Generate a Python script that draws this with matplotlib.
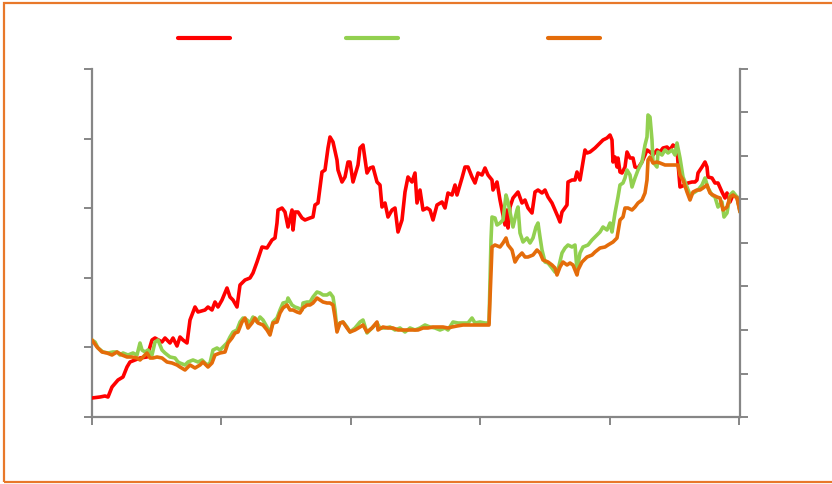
import numpy as np
import matplotlib
matplotlib.use("Agg")
import matplotlib.pyplot as plt
from matplotlib.lines import Line2D
from matplotlib.patches import Rectangle

# ---- data (chart units; no labels shown in the reference) ----
red_x = [0,8,13,16,20,26,31,35,38,43,48,55,60,63,70,73,78,81,85,88,91,95,98,103,106,113,116,120,123,126,130,135,138,141,145,148,153,158,161,165,170,175,180,183,185,186,190,193,196,200,201,203,206,210,213,218,221,223,226,230,233,236,238,241,245,246,250,253,256,258,261,266,268,271,275,278,281,285,288,290,293,296,300,303,306,310,313,316,320,323,325,328,331,335,338,341,345,350,353,356,360,363,365,370,373,376,380,383,386,390,393,396,400,401,405,408,410,413,415,416,418,421,426,430,433,436,440,443,446,450,453,456,460,463,466,468,470,475,476,480,483,485,488,491,493,495,498,503,508,511,515,518,520,521,523,525,526,528,530,533,535,538,541,543,546,550,553,555,558,561,565,568,571,575,578,581,585,586,588,593,596,600,603,605,606,610,613,615,616,620,623,626,630,633,635,638,641,645,648]
red_y = [19,20,21,20,30,37,40,50,55,57,59,60,77,79,75,79,74,79,71,80,77,74,97,110,105,107,110,107,115,110,117,129,120,117,110,132,137,139,144,155,170,169,177,179,194,207,209,205,190,207,187,205,205,199,197,199,200,212,214,245,247,269,280,275,257,247,235,240,255,255,235,252,269,272,244,249,250,235,232,210,214,200,207,209,185,197,225,240,235,244,214,227,207,209,207,197,212,215,209,224,222,232,222,239,250,250,240,234,244,242,249,242,237,227,235,217,207,192,207,189,210,219,225,214,217,209,204,225,227,224,227,220,214,207,200,195,205,212,235,237,237,245,237,255,267,264,265,269,274,277,279,282,277,255,260,250,259,245,244,250,265,259,259,250,249,255,262,267,265,262,267,265,269,270,267,272,269,254,230,232,234,235,235,237,244,250,255,250,240,239,234,234,225,219,224,215,222,220,207]

green_x = [0,3,6,11,16,21,25,28,31,36,41,45,48,50,53,56,60,63,66,70,73,78,83,86,88,93,96,101,106,110,115,118,121,125,128,131,135,138,141,145,148,151,155,158,161,165,168,171,175,178,181,185,188,191,195,196,200,203,206,210,211,215,218,221,225,228,231,235,238,241,243,245,248,251,255,258,263,268,271,275,280,285,288,293,298,303,308,313,318,323,328,333,338,343,348,353,356,361,366,371,376,380,383,388,393,397,399,400,403,405,408,411,414,416,418,421,425,426,428,431,435,438,441,444,446,448,450,453,456,460,463,466,470,473,476,480,483,485,488,491,496,500,505,508,511,515,518,520,523,526,528,531,533,535,538,540,543,546,550,553,555,556,558,560,561,565,566,570,573,576,580,583,585,588,591,595,598,603,606,610,613,616,620,623,626,630,632,635,638,641,645,648]
green_y = [77,75,69,65,64,65,65,62,64,62,64,62,74,67,65,67,62,75,77,67,64,60,59,55,54,52,55,57,55,57,52,54,67,69,67,70,74,80,85,87,95,99,97,94,100,95,100,97,90,84,95,99,107,114,115,119,112,110,109,107,114,115,115,120,125,124,122,122,124,120,107,87,94,95,90,85,89,95,97,84,89,94,89,89,90,87,89,85,89,87,89,92,90,89,87,89,87,95,94,94,94,99,94,95,94,94,177,200,199,192,194,197,222,215,205,190,207,210,184,175,179,174,179,190,194,180,167,155,154,149,145,147,164,169,172,170,172,147,164,170,172,177,182,185,190,187,194,185,204,220,232,234,239,247,242,230,239,247,255,272,280,302,300,277,255,250,265,262,267,264,267,262,274,259,240,230,222,225,227,232,239,229,222,220,210,215,200,204,222,225,220,205]

orange_x = [0,5,10,15,20,25,30,35,40,45,48,51,55,58,61,65,70,75,80,85,88,93,98,103,108,111,116,120,123,128,133,136,140,143,146,150,153,156,160,163,166,171,175,178,181,185,188,191,195,198,201,205,208,211,215,218,221,225,228,231,235,238,241,243,245,248,251,255,258,263,268,271,275,280,285,286,291,296,301,306,311,316,321,326,331,336,341,345,351,356,360,365,371,378,385,391,397,399,400,403,408,411,414,416,420,423,426,430,433,436,441,445,448,451,456,460,463,465,468,471,475,478,481,485,486,490,495,500,503,508,513,516,521,525,528,531,533,536,540,543,546,550,553,555,556,558,561,565,568,573,578,583,586,588,591,595,598,601,605,608,611,615,618,621,625,628,631,635,638,641,645,648]
orange_y = [77,70,65,64,62,65,62,60,60,59,57,60,64,59,59,60,59,55,54,52,50,47,52,49,52,55,50,54,62,64,65,74,79,84,85,95,99,89,94,99,94,92,87,82,94,95,104,109,112,107,107,105,104,109,112,112,114,119,117,115,114,114,112,100,85,94,95,89,85,87,90,92,85,89,95,87,90,89,89,87,87,87,87,87,89,89,90,90,90,89,90,91,92,92,92,92,92,144,170,172,170,174,179,172,167,155,160,164,160,160,162,167,164,157,155,152,149,142,150,155,152,154,152,142,147,155,160,162,165,169,170,172,175,179,197,200,209,209,207,210,214,217,224,237,257,260,254,255,254,252,252,252,252,242,237,225,217,225,227,227,229,232,224,222,220,219,207,210,220,222,219,205]

RED = "#FF0000"
GREEN = "#92D050"
ORANGE = "#E46C0A"
AXIS = "#868686"

fig = plt.figure(figsize=(8.32, 4.84), dpi=100)
fig.patch.set_facecolor("white")

ax = fig.add_axes([92/832, 1-417/484, 648/832, 348/484])
ax2 = ax.twinx()

lw = 2.6
ax.plot(red_x, red_y, color=RED, lw=lw, solid_joinstyle="round", solid_capstyle="round", zorder=3)
ax.plot(green_x, green_y, color=GREEN, lw=lw, solid_joinstyle="round", solid_capstyle="round", zorder=4)
ax.plot(orange_x, orange_y, color=ORANGE, lw=lw, solid_joinstyle="round", solid_capstyle="round", zorder=5)

ax.set_xlim(0, 648)
ax.set_ylim(0, 348)
ax.set_xticks(np.linspace(0, 647, 6))
ax.set_yticks(np.linspace(0, 348, 6))
ax.set_xticklabels([])
ax.set_yticklabels([])
ax2.set_ylim(0, 8)
ax2.set_yticks(np.arange(0, 9, 1))
ax2.set_yticklabels([])

for a in (ax, ax2):
    a.spines["top"].set_visible(False)
    for s in ("left", "right", "bottom"):
        a.spines[s].set_color(AXIS)
        a.spines[s].set_linewidth(1.6)
    a.tick_params(axis="both", which="both", color=AXIS, width=1.4, length=6, direction="out")
ax.spines["right"].set_visible(False)
ax2.spines["left"].set_visible(False)
ax2.spines["bottom"].set_visible(False)

# legend swatches (no text in the reference)
legend_segments = [(178, 230, RED), (346, 398, GREEN), (548, 600, ORANGE)]
for x0, x1, c in legend_segments:
    fig.add_artist(Line2D([x0/832, x1/832], [1-38/484, 1-38/484], color=c, lw=3,
                          solid_capstyle="round", transform=fig.transFigure))

# outer border
fig.add_artist(Rectangle((4/832, 2/484), 0.999, 479/484, transform=fig.transFigure,
                         fill=False, edgecolor="#E8782A", lw=1.6))

fig.savefig("out.png", dpi=100, facecolor="white")
